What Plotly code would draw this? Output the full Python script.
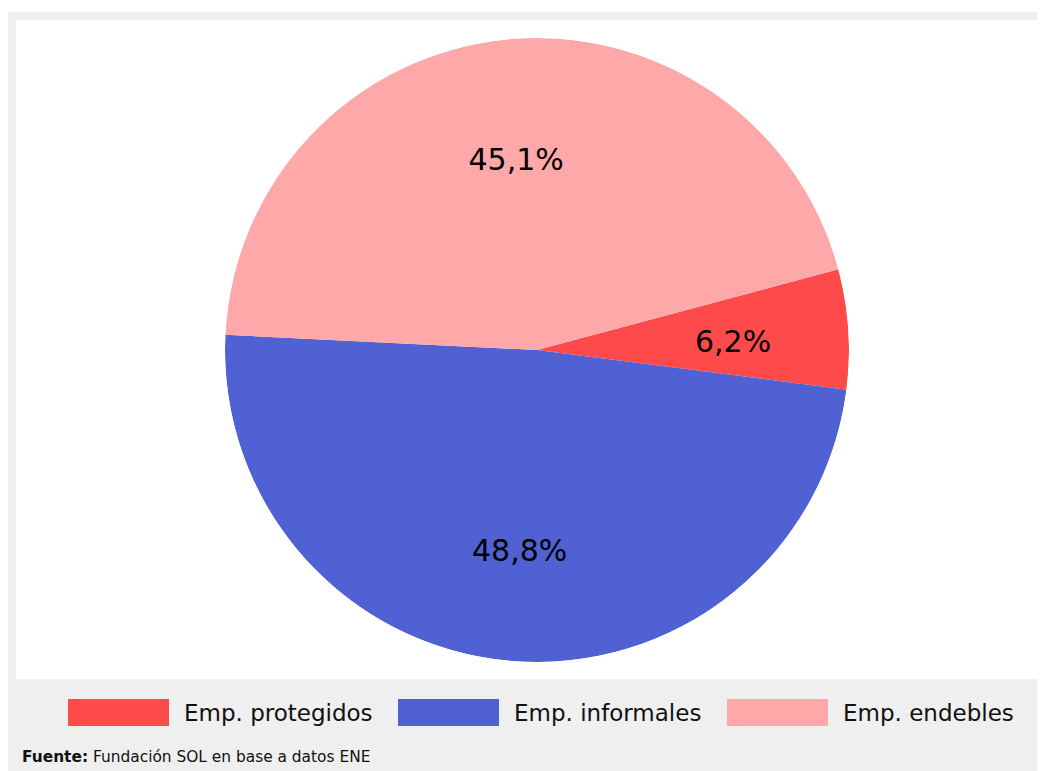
import plotly.graph_objects as go

# datos
categorias = ["Emp. protegidos", "Emp. informales", "Emp. endebles"]
porcentajes = [6.2, 48.8, 45.1]
colores = ["#FF4A4C", "#5061D3", "#FFA8A9"]
fuente = "<b>Fuente:</b> Fundación SOL en base a datos ENE"

W, H = 1045, 763
TEXT_SHIFT = 8  # px hacia abajo para las etiquetas de porcentaje
ML, MT = 217, 30
PW = 624
PH = 624 + TEXT_SHIFT
MR = W - ML - PW
MB = H - MT - PH


def px_x(x):
    # pixel (desde la izquierda de la figura) -> coordenada paper
    return (x - ML) / PW


def px_y(y):
    # pixel (desde arriba de la figura) -> coordenada paper
    return (H - y - MB) / PH


# angulos de cada sector (grados, sentido horario)
total = sum(porcentajes)
anchos = [p / total * 360 for p in porcentajes]
centros = []
acum = 0
for a in anchos:
    centros.append(acum + a / 2)
    acum += a

fig = go.Figure()
fig.add_trace(go.Barpolar(
    r=[1] * len(porcentajes),
    theta=centros,
    width=anchos,
    marker=dict(color=colores, line=dict(width=0)),
    customdata=porcentajes,
    hovertext=categorias,
    hovertemplate="%{hovertext}: %{customdata:.1f}%<extra></extra>",
    showlegend=False,
    subplot="polar",
))
fig.add_trace(go.Scatterpolar(
    r=[0.63] * len(porcentajes),
    theta=centros,
    mode="text",
    customdata=porcentajes,
    texttemplate="%{customdata:.1f}%",
    textfont=dict(size=30, color="#000000"),
    hoverinfo="skip",
    showlegend=False,
    subplot="polar2",
))

shapes = [
    # marco gris
    dict(type="rect", xref="paper", yref="paper", layer="below",
         x0=px_x(0), x1=px_x(W + 10), y0=px_y(H + 20), y1=px_y(4),
         fillcolor="#efefef", line=dict(width=0)),
    # area blanca
    dict(type="rect", xref="paper", yref="paper", layer="below",
         x0=px_x(8), x1=px_x(W + 10), y0=px_y(671), y1=px_y(12),
         fillcolor="#ffffff", line=dict(width=0)),
]

annotations = []
swatch_x = [60, 390, 719]
for i, cat in enumerate(categorias):
    x0 = swatch_x[i]
    shapes.append(dict(type="rect", xref="paper", yref="paper",
                       x0=px_x(x0), x1=px_x(x0 + 101),
                       y0=px_y(718), y1=px_y(691),
                       fillcolor=colores[i], line=dict(width=0)))
    annotations.append(dict(text=cat, xref="paper", yref="paper",
                            x=px_x(x0 + 114), y=px_y(705),
                            xanchor="left", yanchor="middle", showarrow=False,
                            font=dict(size=23, color="#111111")))

annotations.append(dict(text=fuente, xref="paper", yref="paper",
                        x=px_x(12), y=px_y(749),
                        xanchor="left", yanchor="middle", showarrow=False,
                        font=dict(size=15.4, color="#111111")))

polar_common = dict(
    bgcolor="rgba(0,0,0,0)",
    hole=0,
    radialaxis=dict(range=[0, 1], visible=False),
    angularaxis=dict(visible=False, direction="clockwise", rotation=15),
)

fig.update_layout(
    width=W,
    height=H,
    margin=dict(l=ML, r=MR, t=MT, b=MB),
    paper_bgcolor="#ffffff",
    separators=",.",
    font=dict(family="DejaVu Sans"),
    polar=dict(domain=dict(x=[0, 1], y=[TEXT_SHIFT / PH, 1]), bargap=0,
               **polar_common),
    polar2=dict(domain=dict(x=[0, 1], y=[0, 1 - TEXT_SHIFT / PH]),
                **polar_common),
    shapes=shapes,
    annotations=annotations,
)

fig.write_html("out.html")
